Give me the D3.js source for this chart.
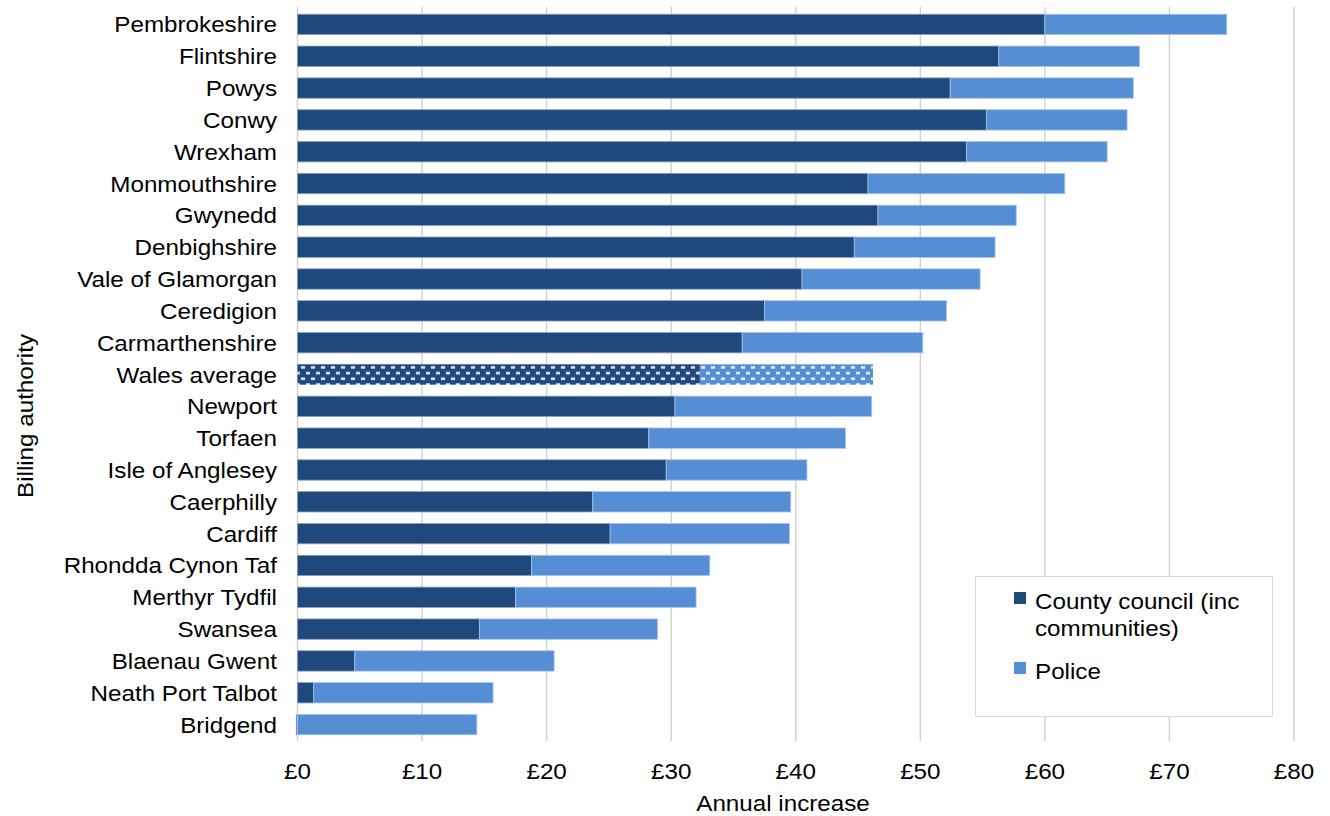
<!DOCTYPE html>
<html>
<head>
<meta charset="utf-8">
<script src="https://cdn.jsdelivr.net/npm/d3@7"></script>
<style>
  html, body { margin: 0; padding: 0; background: #fff; }
  svg { display: block; }
  text { font-family: "Liberation Sans", Arial, sans-serif; fill: #000; }
</style>
</head>
<body>
<svg id="chart" width="1330" height="816"></svg>
<script>
// Billing authorities, top to bottom
const categories = [
  "Pembrokeshire", "Flintshire", "Powys", "Conwy", "Wrexham", "Monmouthshire",
  "Gwynedd", "Denbighshire", "Vale of Glamorgan", "Ceredigion", "Carmarthenshire",
  "Wales average", "Newport", "Torfaen", "Isle of Anglesey", "Caerphilly", "Cardiff",
  "Rhondda Cynon Taf", "Merthyr Tydfil", "Swansea", "Blaenau Gwent",
  "Neath Port Talbot", "Bridgend"
];

// Annual increase, £: county council (including communities)
const councilValues = [
  60.0, 56.3, 52.4, 55.3, 53.7, 45.8,
  46.6, 44.7, 40.5, 37.5, 35.7,
  32.3, 30.3, 28.2, 29.6, 23.7, 25.1,
  18.8, 17.5, 14.6, 4.6,
  1.3, -0.1
];

// Annual increase, £: police
const policeValues = [
  14.6, 11.3, 14.7, 11.3, 11.3, 15.8,
  11.1, 11.3, 14.3, 14.6, 14.5,
  13.9, 15.8, 15.8, 11.3, 15.9, 14.4,
  14.3, 14.5, 14.3, 16.0,
  14.4, 14.4
];

const xTickValues = [0, 10, 20, 30, 40, 50, 60, 70, 80];
const seriesNames = ["County council (inc communities)", "Police"];
const averageLabel = "Wales average";

const DARK = "#1F497D";
const LIGHT = "#558ED5";
const SX = 1.1;           // horizontal text stretch
const FONT = 22;

const svg = d3.select("#chart");

const x = d3.scaleLinear().domain([0, 80]).range([297.5, 1294]);
const y = d3.scaleBand().domain(categories).range([8.5, 740.5])
  .paddingInner(0.36).paddingOuter(0.18);

// dotted fills for the average row
const defs = svg.append("defs");
function dotPattern(id, bg) {
  const p = defs.append("pattern").attr("id", id)
    .attr("patternUnits", "userSpaceOnUse")
    .attr("width", 10).attr("height", 11.4)
    .attr("y", y(averageLabel) + 0.6);
  p.append("rect").attr("width", 10).attr("height", 11.4).attr("fill", bg);
  p.append("rect").attr("x", 0.8).attr("y", 1.1).attr("width", 4.4).attr("height", 2.6)
    .attr("rx", 0.8).attr("fill", "#fff").attr("fill-opacity", 0.85);
  p.append("rect").attr("x", 5.8).attr("y", 6.8).attr("width", 4.4).attr("height", 2.6)
    .attr("rx", 0.8).attr("fill", "#fff").attr("fill-opacity", 0.85);
}
dotPattern("avgDark", DARK);
dotPattern("avgLight", LIGHT);

// vertical gridlines
svg.append("g").selectAll("line").data(xTickValues).join("line")
  .attr("x1", d => x(d)).attr("x2", d => x(d))
  .attr("y1", 7).attr("y2", 741)
  .attr("stroke", "#d0d0d0").attr("stroke-width", 1.4);

// stacked bars
const rows = categories.map((c, i) => ({
  name: c, council: councilValues[i], police: policeValues[i]
}));

const barG = svg.append("g");
rows.forEach(r => {
  const isAvg = r.name === averageLabel;
  const c0 = Math.min(0, r.council), c1 = Math.max(0, r.council);
  barG.append("rect")
    .attr("x", x(c0)).attr("width", x(c1) - x(c0))
    .attr("y", y(r.name)).attr("height", y.bandwidth())
    .attr("fill", isAvg ? "url(#avgDark)" : DARK)
    .attr("stroke", isAvg ? "none" : "#8aa0bd").attr("stroke-width", 0.8);
  barG.append("rect")
    .attr("x", x(c1)).attr("width", x(c1 + r.police) - x(c1))
    .attr("y", y(r.name)).attr("height", y.bandwidth())
    .attr("fill", isAvg ? "url(#avgLight)" : LIGHT)
    .attr("stroke", isAvg ? "none" : "#a9c5ec").attr("stroke-width", 0.8);
});

// stretched text helper
function label(g, tx, ty, str, anchor, size) {
  return g.append("text")
    .attr("transform", `translate(${tx},${ty}) scale(${SX},1)`)
    .attr("text-anchor", anchor)
    .style("font-size", (size || FONT) + "px")
    .text(str);
}

// category axis
const yAxis = svg.append("g");
categories.forEach(c => {
  label(yAxis, 277, y(c) + y.bandwidth() / 2 + 8, c, "end");
});

// value axis
const xAxis = svg.append("g");
xTickValues.forEach(v => {
  label(xAxis, x(v), 779, "£" + v, "middle");
});

// axis titles
label(svg, 783, 811, "Annual increase", "middle");
svg.append("text")
  .attr("transform", "translate(33,416) rotate(-90) scale(1.1,1)")
  .attr("text-anchor", "middle")
  .style("font-size", "22px")
  .text("Billing authority");

// legend
const lg = svg.append("g");
lg.append("rect").attr("x", 975.5).attr("y", 576.5).attr("width", 297).attr("height", 140)
  .attr("fill", "#fff").attr("stroke", "#d9d9d9").attr("stroke-width", 1);
lg.append("rect").attr("x", 1014).attr("y", 592).attr("width", 12).attr("height", 12).attr("fill", DARK);
lg.append("rect").attr("x", 1014).attr("y", 662).attr("width", 12).attr("height", 12).attr("fill", LIGHT);
label(lg, 1035, 609, "County council (inc", "start");
label(lg, 1035, 636, "communities)", "start");
label(lg, 1035, 679, seriesNames[1], "start");
</script>
</body>
</html>
